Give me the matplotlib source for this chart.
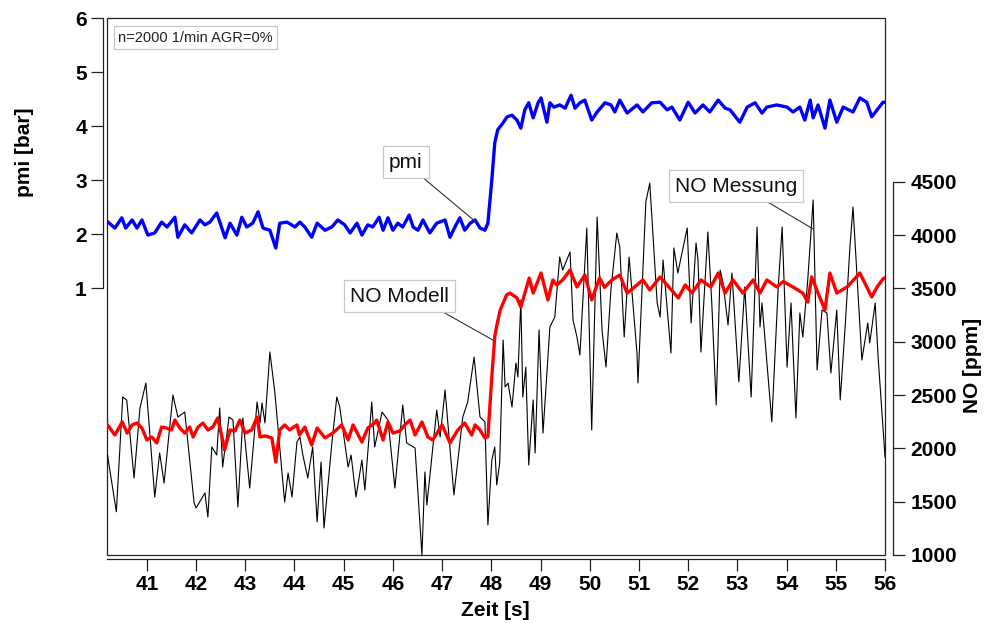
import matplotlib
matplotlib.use("Agg")
import matplotlib.pyplot as plt
from matplotlib.patches import Rectangle

plt.rcParams['font.family'] = ['Liberation Sans', 'DejaVu Sans']

# ---------------- data ----------------
pmi_t = [40.21, 40.35, 40.49, 40.57, 40.70, 40.80, 40.90, 41.02, 41.16, 41.30,
         41.41, 41.57, 41.63, 41.77, 41.91, 42.08, 42.18, 42.28, 42.42, 42.59,
         42.69, 42.83, 42.93, 43.03, 43.15, 43.26, 43.36, 43.50, 43.62, 43.70,
         43.85, 44.01, 44.11, 44.21, 44.35, 44.46, 44.62, 44.76, 44.88, 45.02,
         45.13, 45.27, 45.37, 45.49, 45.59, 45.72, 45.80, 45.90, 46.00, 46.10,
         46.20, 46.33, 46.41, 46.51, 46.61, 46.75, 46.89, 47.06, 47.16, 47.26,
         47.36, 47.46, 47.57, 47.67, 47.77, 47.87, 47.93, 48.01, 48.07, 48.13,
         48.24, 48.32, 48.42, 48.52, 48.60, 48.68, 48.76, 48.85, 48.95, 49.01,
         49.13, 49.19, 49.27, 49.39, 49.50, 49.62, 49.70, 49.80, 49.90, 50.04,
         50.15, 50.31, 50.43, 50.51, 50.61, 50.76, 50.96, 51.08, 51.26, 51.43,
         51.57, 51.67, 51.83, 52.00, 52.14, 52.30, 52.44, 52.61, 52.75, 52.85,
         53.05, 53.20, 53.36, 53.50, 53.60, 53.80, 54.01, 54.13, 54.27, 54.37,
         54.48, 54.54, 54.64, 54.78, 54.88, 55.02, 55.15, 55.35, 55.49, 55.63,
         55.73, 55.84, 55.96, 56.00]
pmi_v = [2.22, 2.11, 2.30, 2.11, 2.26, 2.11, 2.26, 1.98, 2.02, 2.22,
         2.13, 2.31, 1.94, 2.17, 2.02, 2.26, 2.17, 2.22, 2.39, 1.93,
         2.20, 1.98, 2.31, 2.13, 2.20, 2.41, 2.11, 2.07, 1.74, 2.20,
         2.22, 2.13, 2.22, 2.13, 1.94, 2.20, 2.07, 2.13, 2.26, 2.17,
         2.02, 2.20, 1.98, 2.17, 2.13, 2.31, 2.07, 2.30, 2.07, 2.20,
         2.13, 2.35, 2.13, 2.07, 2.26, 2.02, 2.20, 2.26, 1.94, 2.13,
         2.30, 2.07, 2.20, 2.26, 2.11, 2.07, 2.20, 3.00, 3.69, 3.93,
         4.06, 4.17, 4.20, 4.11, 3.96, 4.30, 4.43, 4.15, 4.43, 4.52,
         4.07, 4.43, 4.35, 4.39, 4.33, 4.57, 4.33, 4.43, 4.48, 4.11,
         4.26, 4.43, 4.39, 4.26, 4.48, 4.24, 4.39, 4.26, 4.43, 4.44,
         4.30, 4.35, 4.11, 4.44, 4.24, 4.39, 4.26, 4.48, 4.33, 4.30,
         4.07, 4.35, 4.43, 4.24, 4.35, 4.39, 4.35, 4.26, 4.35, 4.11,
         4.48, 4.15, 4.39, 3.96, 4.48, 4.07, 4.35, 4.26, 4.52, 4.44,
         4.17, 4.30, 4.44, 4.44]

mod_t = [40.20, 40.35, 40.50, 40.60, 40.70, 40.80, 40.90, 41.00, 41.10, 41.20,
         41.30, 41.40, 41.50, 41.57, 41.67, 41.77, 41.87, 41.94, 42.04, 42.14,
         42.24, 42.34, 42.44, 42.54, 42.58, 42.69, 42.79, 42.89, 43.00, 43.13,
         43.24, 43.30, 43.40, 43.54, 43.62, 43.70, 43.80, 43.90, 44.05, 44.10,
         44.21, 44.35, 44.46, 44.62, 44.78, 44.96, 45.09, 45.19, 45.37, 45.49,
         45.63, 45.67, 45.80, 45.90, 46.00, 46.14, 46.24, 46.35, 46.45, 46.59,
         46.71, 46.81, 47.00, 47.16, 47.32, 47.46, 47.60, 47.67, 47.77, 47.87,
         47.93, 48.01, 48.07, 48.11, 48.18, 48.31, 48.38, 48.52, 48.60, 48.77,
         48.85, 49.01, 49.15, 49.25, 49.33, 49.45, 49.60, 49.74, 49.90, 50.04,
         50.20, 50.30, 50.45, 50.61, 50.76, 50.96, 51.08, 51.22, 51.43, 51.57,
         51.80, 51.94, 52.08, 52.26, 52.46, 52.61, 52.75, 52.91, 53.11, 53.32,
         53.46, 53.60, 53.80, 53.93, 54.13, 54.33, 54.43, 54.51, 54.64, 54.78,
         54.88, 55.02, 55.23, 55.49, 55.63, 55.73, 55.84, 55.96, 56.00]
mod_v = [2220, 2126, 2248, 2144, 2220, 2238, 2191, 2079, 2107, 2051,
         2200, 2191, 2173, 2266, 2191, 2144, 2200, 2107, 2200, 2238,
         2173, 2200, 2285, 2079, 1985, 2173, 2163, 2266, 2144, 2173,
         2294, 2107, 2117, 2098, 1872, 2173, 2220, 2173, 2220, 2126,
         2200, 2032, 2191, 2098, 2144, 2220, 2079, 2220, 2060, 2191,
         2238, 2266, 2079, 2248, 2144, 2163, 2220, 2266, 2126, 2248,
         2107, 2079, 2220, 2051, 2173, 2238, 2126, 2220, 2173, 2098,
         2110, 2670, 3050, 3150, 3298, 3439, 3457, 3411, 3326, 3598,
         3457, 3645, 3392, 3580, 3533, 3580, 3673, 3514, 3626, 3392,
         3598, 3510, 3580, 3626, 3457, 3533, 3580, 3486, 3608, 3533,
         3411, 3533, 3457, 3580, 3514, 3645, 3457, 3580, 3457, 3580,
         3457, 3580, 3514, 3565, 3514, 3457, 3373, 3608, 3457, 3298,
         3645, 3457, 3514, 3645, 3514, 3420, 3514, 3590, 3600]

mes_t = [40.20, 40.38, 40.51, 40.59, 40.74, 40.86, 40.98, 41.16, 41.26, 41.35,
         41.53, 41.63, 41.77, 41.96, 42.00, 42.18, 42.24, 42.32, 42.42, 42.48,
         42.54, 42.67, 42.75, 42.85, 42.95, 43.09, 43.24, 43.30, 43.34, 43.40,
         43.50, 43.60, 43.80, 43.87, 43.95, 44.05, 44.11, 44.17, 44.27, 44.37,
         44.46, 44.54, 44.60, 44.76, 44.86, 44.92, 45.09, 45.15, 45.25, 45.37,
         45.43, 45.57, 45.63, 45.78, 45.90, 46.04, 46.20, 46.28, 46.45, 46.59,
         46.65, 46.69, 46.89, 46.96, 47.06, 47.24, 47.42, 47.52, 47.65, 47.77,
         47.87, 47.93, 48.01, 48.07, 48.11, 48.17, 48.24, 48.28, 48.34, 48.42,
         48.50, 48.54, 48.60, 48.64, 48.70, 48.76, 48.85, 48.89, 48.97, 49.05,
         49.19, 49.29, 49.39, 49.45, 49.60, 49.66, 49.74, 49.80, 49.94, 50.04,
         50.15, 50.25, 50.33, 50.43, 50.55, 50.61, 50.70, 50.80, 50.96, 50.98,
         51.14, 51.22, 51.37, 51.43, 51.49, 51.65, 51.71, 51.79, 51.98, 52.06,
         52.16, 52.20, 52.26, 52.40, 52.48, 52.57, 52.65, 52.71, 52.81, 52.89,
         53.03, 53.15, 53.28, 53.40, 53.46, 53.50, 53.70, 53.83, 53.91, 54.01,
         54.09, 54.19, 54.27, 54.33, 54.43, 54.54, 54.62, 54.72, 54.82, 54.90,
         55.02, 55.09, 55.19, 55.29, 55.35, 55.53, 55.65, 55.69, 55.80, 55.86,
         56.00]
mes_v = [1938, 1406, 2482, 2454, 1722, 2379, 2613, 1544, 1957, 1675,
         2501, 2294, 2341, 1488, 1441, 1582, 1356, 2013, 1938, 2379,
         1825, 2294, 2266, 1450, 2285, 1628, 2435, 2238, 2426, 2238,
         2904, 2529, 1497, 1769, 1544, 2060, 2107, 1938, 1722, 2013,
         1310, 1872, 1253, 2051, 2482, 2388, 1825, 1938, 1544, 1891,
         1610, 2435, 2013, 2341, 2266, 1628, 2407, 2051, 2004, 1000,
         1779, 1469, 2360, 2107, 2548, 1563, 2294, 2435, 2857, 2294,
         2248, 1281, 1891, 2013, 1657, 1863, 3017, 2576, 2613, 2388,
         2801, 2670, 3392, 2482, 2763, 1844, 2454, 1957, 3111, 2144,
         3139, 3232, 3795, 3673, 3842, 3204, 3045, 2876, 4067, 2173,
         4170, 3111, 2763, 3486, 4020, 3889, 3045, 3795, 2895, 2613,
         4311, 4489, 3364, 3232, 3767, 2895, 3880, 3645, 4067, 3176,
         3927, 3767, 2904, 4030, 3364, 2407, 3673, 3551, 3157, 3645,
         2623, 3514, 2482, 4077, 3139, 3364, 2248, 3514, 4077, 2763,
         3364, 2285, 3270, 3045, 3580, 4330, 2735, 3298, 3270, 2707,
         3298, 2454, 3139, 3908, 4264, 2829, 3176, 2989, 3364, 2857,
         1919]

x_ticks = [41, 42, 43, 44, 45, 46, 47, 48, 49, 50, 51, 52, 53, 54, 55, 56]
pmi_ticks = [1, 2, 3, 4, 5, 6]
no_ticks = [1000, 1500, 2000, 2500, 3000, 3500, 4000, 4500]

# ---------------- figure ----------------
W, H = 985, 623
fig = plt.figure(figsize=(W / 100, H / 100), dpi=100)
L, R, T, B = 107, 885, 18, 555
ax = fig.add_axes([L / W, 1 - B / H, (R - L) / W, (B - T) / H])
ax2 = ax.twinx()

tick_font = dict(fontsize=15, fontweight='bold')

ax.set_xlim(40.19, 56.0)
ax.set_ylim(-3.944, 6.0)
ax2.set_ylim(1000, 6037)

ax2.plot(mes_t, mes_v, color='black', lw=0.8, zorder=2)
ax2.plot(mod_t, mod_v, color='#ff0000', lw=2.4, zorder=3)
ax.plot(pmi_t, pmi_v, color='#0000ff', lw=2.4, zorder=3)

for s in ax.spines.values():
    s.set_visible(False)
for s in ax2.spines.values():
    s.set_visible(False)

frame = Rectangle((0, 0), 1, 1, transform=ax.transAxes, fill=False,
                  edgecolor='#222222', lw=0.9, clip_on=False, zorder=5)
ax.add_patch(frame)

ax.spines['left'].set_visible(True)
ax.spines['left'].set_position(('outward', 3))
ax.spines['left'].set_bounds(1, 6)
ax.spines['bottom'].set_visible(True)
ax.spines['bottom'].set_position(('outward', 3))
ax2.spines['right'].set_visible(True)
ax2.spines['right'].set_position(('outward', 6))
ax2.spines['right'].set_bounds(1000, 4500)
for s in (ax.spines['left'], ax.spines['bottom'], ax2.spines['right']):
    s.set_linewidth(0.9)
    s.set_color('#222222')

ax.set_xticks(x_ticks)
ax.set_yticks(pmi_ticks)
ax2.set_yticks(no_ticks)
ax.tick_params(axis='both', direction='out', length=8.5, width=0.9, pad=3,
               colors='#222222')
ax2.tick_params(axis='y', direction='out', length=8.5, width=0.9, pad=4,
                colors='#222222')
for lab in ax.get_xticklabels() + ax.get_yticklabels() + ax2.get_yticklabels():
    lab.set_fontsize(15)
    lab.set_fontweight('bold')
    lab.set_color('black')

# axis labels
fig.text(25 / W, 1 - 152 / H, 'pmi [bar]', rotation=90, ha='center', va='center',
         fontsize=15, fontweight='bold')
fig.text(972 / W, 1 - 365 / H, 'NO [ppm]', rotation=90, ha='center', va='center',
         fontsize=15, fontweight='bold')
fig.text(495.5 / W, 1 - 611 / H, 'Zeit [s]', ha='center', va='center',
         fontsize=15, fontweight='bold')

# annotations
box = dict(boxstyle='square,pad=0.3', fc='white', ec='#c8c8c8', lw=0.9)
ax.text(0.0145, 0.963, 'n=2000 1/min AGR=0%', transform=ax.transAxes,
        ha='left', va='center', fontsize=10.5, color='#222222',
        bbox=dict(boxstyle='square,pad=0.3', fc='white', ec='#c8c8c8', lw=0.9),
        zorder=6)

ax.annotate('pmi', xy=(47.69, 2.22), xytext=(46.26, 3.33), textcoords='data',
            ha='center', va='center', fontsize=15, color='#111111', bbox=box,
            arrowprops=dict(arrowstyle='-', color='#333333', lw=0.8,
                            relpos=(0.8, 0.0), shrinkA=0, shrinkB=0),
            zorder=6)
ax2.annotate('NO Modell', xy=(48.03, 3017), xytext=(46.14, 3429), textcoords='data',
             ha='center', va='center', fontsize=15, color='#111111', bbox=box,
             arrowprops=dict(arrowstyle='-', color='#333333', lw=0.8,
                             relpos=(0.82, 0.0), shrinkA=0, shrinkB=0),
             zorder=6)
ax2.annotate('NO Messung', xy=(54.54, 4058), xytext=(52.97, 4461), textcoords='data',
             ha='center', va='center', fontsize=15, color='#111111', bbox=box,
             arrowprops=dict(arrowstyle='-', color='#333333', lw=0.8,
                             relpos=(0.67, 0.0), shrinkA=0, shrinkB=0),
             zorder=6)

fig.savefig('out.png', dpi=100)
